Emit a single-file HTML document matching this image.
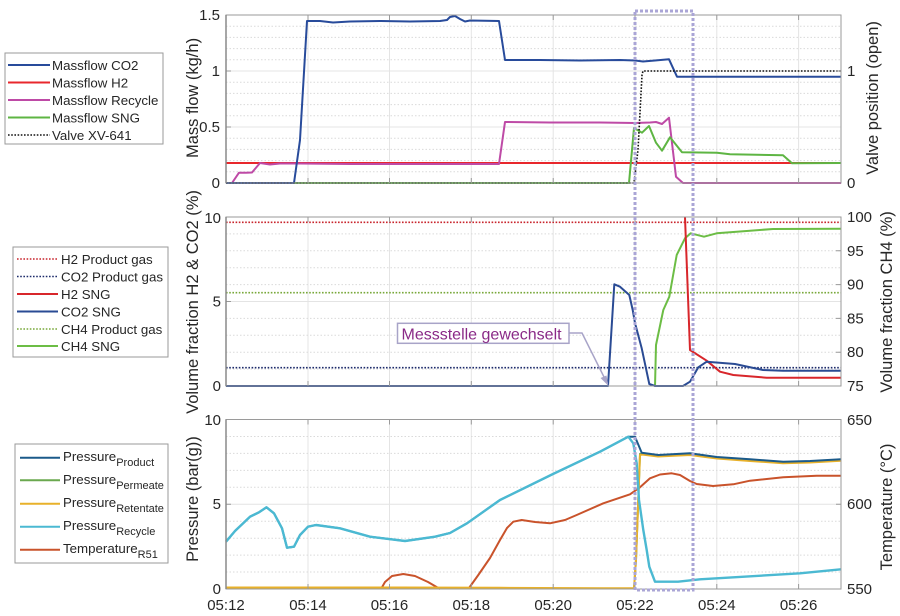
<!DOCTYPE html>
<html>
<head>
<meta charset="utf-8">
<style>
html,body{margin:0;padding:0;background:#fff;}
svg{display:block;}
text{font-family:"Liberation Sans",Arial,sans-serif;fill:#262626;}
</style>
</head>
<body>
<svg width="900" height="616" viewBox="0 0 900 616" xmlns="http://www.w3.org/2000/svg">
<rect width="900" height="616" fill="#fff"/>

<!-- ================= GRIDS ================= -->
<g fill="none">
  <path stroke="#e4e4e4" stroke-width="1" d="
  M308 15V183 M389.5 15V183 M471.3 15V183 M553.2 15V183 M635 15V183 M716.8 15V183 M798.6 15V183
  M308 217V386 M389.5 217V386 M471.3 217V386 M553.2 217V386 M635 217V386 M716.8 217V386 M798.6 217V386
  M308 419.5V589 M389.5 419.5V589 M471.3 419.5V589 M553.2 419.5V589 M635 419.5V589 M716.8 419.5V589 M798.6 419.5V589
  M226 127H841 M226 71H841
  M226 301.5H841
  M226 504.25H841"/>
  <path stroke="#dadada" stroke-width="1" stroke-dasharray="1.5 2" d="
  M226 171.8H841 M226 160.6H841 M226 149.4H841 M226 138.2H841 M226 115.8H841 M226 104.6H841 M226 93.4H841 M226 82.2H841 M226 59.8H841 M226 48.6H841 M226 37.4H841 M226 26.2H841
  M226 369.1H841 M226 352.2H841 M226 335.3H841 M226 318.4H841 M226 284.6H841 M226 267.7H841 M226 250.8H841 M226 233.9H841
  M226 572H841 M226 555.1H841 M226 538.2H841 M226 521.2H841 M226 487.3H841 M226 470.4H841 M226 453.4H841 M226 436.5H841"/>
</g>

<!-- ================= TOP PANEL DATA ================= -->
<g fill="none" stroke-linejoin="round" stroke-width="2">
  <polyline stroke="#e8272c" points="226,163 841,163"/>
  <polyline stroke="#be4aa6" points="226,183 232,183 239,172.7 246,172.7 252,172.5 260,163 270,164.5 280,163.5 300,163.5 350,164 400,164 450,164 499,164 505,122 550,122.5 600,122.5 635,123 650,122.5 656,122 662,124 669,117.7 676,176.7 683,183 841,183"/>
  <polyline stroke="#5eb543" points="226,183 629,183 634,128 642,132.7 649,126 656,142.7 662,150.7 670,137.3 682,152.3 717,152.7 730,154.3 783,155.3 792,163.3 841,163"/>
  <polyline stroke="#284b9b" points="226,183 294,183 300,140 307,21 320,21 333,22.5 350,21.5 380,21 410,21.5 440,21 447,20 450,17 455,16 460,19 465,21.5 470,20.5 499,21 505,60 540,60 580,60.5 620,60 635,60.5 643,61.5 655,60.5 669,59.3 677,76.7 841,76.7"/>
  <polyline stroke="#111" stroke-width="1.6" stroke-dasharray="1.6 1.6" points="226,183 634,183 638,150 642,75 643,71 841,71"/>
</g>

<!-- ================= MIDDLE PANEL DATA ================= -->
<g fill="none" stroke-linejoin="round">
  <line x1="226" y1="222.3" x2="841" y2="222.3" stroke="#c8242c" stroke-width="1.6" stroke-dasharray="1.6 1.6"/>
  <line x1="226" y1="292.7" x2="841" y2="292.7" stroke="#78a83a" stroke-width="1.6" stroke-dasharray="1.6 1.6"/>
  <line x1="226" y1="367.7" x2="841" y2="367.7" stroke="#1d2b6b" stroke-width="1.6" stroke-dasharray="1.6 1.6"/>
  <polyline stroke="#6cbd45" stroke-width="2" points="655,386.7 656,345 663.3,310 669.3,296.7 676.7,255 685,238.3 690.7,233.3 704,236.7 716.7,233.3 750,230.7 773,229 841,228.7"/>
  <polyline stroke="#d8262b" stroke-width="2" points="685,217.3 690,350 706.7,360.7 720,371.7 733.3,375 766.7,377.7 841,377.7"/>
  <polyline stroke="#2a4b94" stroke-width="2" points="226,386 608,386 614.3,284.3 620,286.7 629.3,295 632.7,310 635,323 641.7,348.3 649.3,384 655,386 683,386 690,381.7 698.3,367.3 706.7,361.7 735,364 763,370 783,370.7 841,370.7"/>
</g>

<!-- annotation -->
<g>
  <polyline fill="none" stroke="#a8a4c8" stroke-width="1.5" points="569,333 582,333 607,383"/>
  <polygon fill="#a8a4c8" points="608.5,386 600.5,378 606.5,375.5"/>
  <rect x="397.5" y="323.3" width="171.5" height="20" fill="#fff" stroke="#a8a4c8" stroke-width="1.5"/>
  <text x="401.5" y="339.5" font-size="16" style="fill:#8a2a87">Messstelle gewechselt</text>
</g>

<!-- ================= BOTTOM PANEL DATA ================= -->
<g fill="none" stroke-linejoin="round" stroke-width="2">
  <polyline stroke="#c9532b" points="381,589 385,582 392,576 403.3,574 415,576 428,582 440,589"/>
  <polyline stroke="#c9532b" points="468.3,589 478.3,575 490,558 500,540 507,528 513.3,521.7 521.7,520 535,522 550,523.3 565,520 576.7,515 603.3,503.3 630,494.3 640,487.3 650,478.3 660,474.5 671.7,473.3 680,475 690,481 696.7,484 713,486 733.3,484.3 750,480.7 783.3,477.3 816.7,475.7 841,475.7"/>
  <polyline stroke="#6aa84f" points="226,588 634,588.5 636,560 640,454 642,453.5 658,455.7 690,454.2 717,457.7 750,460.2 783,462.5 810,461.8 841,460"/>
  <polyline stroke="#e8b12a" points="226,587.5 400,587.5 500,587.8 600,588.2 634,588.2 636,560 640,455 642,454.5 658,456.5 690,455 717,458.5 750,461 783,463.2 810,462.5 841,460.7"/>
  <polyline stroke="#1b5a8a" points="226,541.7 235,531 250,516.7 259,512.3 266.5,507.3 274,513.3 282,528.3 287,547.7 294,546.7 300,535 308,526.7 316,525 340,528.3 370,536.7 405,541 435,536.7 450,533 467,523.3 500,500 553,474 600,451.7 628.3,436.7 635,436.7 641.7,452.7 658.3,455 690,453.3 716.7,457 750,459.3 783.3,461.7 810,461 841,459.3"/>
  <polyline stroke="#4bb9d2" stroke-width="2.4" points="226,541.7 235,531 250,516.7 259,512.3 266.5,507.3 274,513.3 282,528.3 287,547.7 294,546.7 300,535 308,526.7 316,525 340,528.3 370,536.7 405,541 435,536.7 450,533 467,523.3 500,500 553,474 600,451.7 628.3,436.7 633.3,443.3 636.7,463.3 639,500 643.3,530 646.7,550 649.3,566.7 655,581.7 678,581.7 700,579.3 800,573.3 841,569.3"/>
</g>

<!-- ================= AXES BOXES & TICKS ================= -->
<g fill="none" stroke="#9a9a9a" stroke-width="1">
  <rect x="226" y="15" width="615" height="168"/>
  <rect x="226" y="217" width="615" height="169"/>
  <rect x="226" y="419.5" width="615" height="169.5"/>
  <path d="
  M308 183v-5 M389.5 183v-5 M471.3 183v-5 M553.2 183v-5 M635 183v-5 M716.8 183v-5 M798.6 183v-5
  M308 15v5 M389.5 15v5 M471.3 15v5 M553.2 15v5 M635 15v5 M716.8 15v5 M798.6 15v5
  M308 386v-5 M389.5 386v-5 M471.3 386v-5 M553.2 386v-5 M635 386v-5 M716.8 386v-5 M798.6 386v-5
  M308 217v5 M389.5 217v5 M471.3 217v5 M553.2 217v5 M635 217v5 M716.8 217v5 M798.6 217v5
  M308 589v-5 M389.5 589v-5 M471.3 589v-5 M553.2 589v-5 M635 589v-5 M716.8 589v-5 M798.6 589v-5
  M308 419.5v5 M389.5 419.5v5 M471.3 419.5v5 M553.2 419.5v5 M635 419.5v5 M716.8 419.5v5 M798.6 419.5v5
  M226 127h5 M226 71h5
  M841 71h-5
  M226 301.5h5
  M841 250.8h-5 M841 284.6h-5 M841 318.4h-5 M841 352.2h-5
  M226 504.25h5 M841 504.25h-5"/>
</g>
<line x1="226" y1="15" x2="226" y2="183" stroke="#8a8a8a" stroke-width="1.5"/>
<line x1="226" y1="217" x2="226" y2="386" stroke="#8a8a8a" stroke-width="1.5"/>
<line x1="226" y1="419.5" x2="226" y2="589" stroke="#8a8a8a" stroke-width="1.5"/>

<!-- purple dotted highlight box -->
<rect x="635" y="11" width="58" height="579" fill="none" stroke="#aaa5d6" stroke-width="3" stroke-dasharray="3 2"/>

<!-- ================= TICK LABELS ================= -->
<g font-size="15" text-anchor="end">
  <text x="220" y="20">1.5</text>
  <text x="220" y="76">1</text>
  <text x="220" y="132">0.5</text>
  <text x="220" y="188">0</text>
  <text x="221" y="223">10</text>
  <text x="221" y="306.5">5</text>
  <text x="221" y="391">0</text>
  <text x="221" y="425">10</text>
  <text x="221" y="509">5</text>
  <text x="221" y="594">0</text>
</g>
<g font-size="15" text-anchor="start">
  <text x="847" y="76">1</text>
  <text x="847" y="188">0</text>
  <text x="847" y="222">100</text>
  <text x="847" y="256">95</text>
  <text x="847" y="289.5">90</text>
  <text x="847" y="323.5">85</text>
  <text x="847" y="357">80</text>
  <text x="847" y="391">75</text>
  <text x="847" y="425">650</text>
  <text x="847" y="509">600</text>
  <text x="847" y="594">550</text>
</g>
<g font-size="15" text-anchor="middle">
  <text x="226" y="610">05:12</text>
  <text x="308" y="610">05:14</text>
  <text x="389.5" y="610">05:16</text>
  <text x="471.3" y="610">05:18</text>
  <text x="553.2" y="610">05:20</text>
  <text x="635" y="610">05:22</text>
  <text x="716.8" y="610">05:24</text>
  <text x="798.6" y="610">05:26</text>
</g>

<!-- ================= AXIS LABELS ================= -->
<g font-size="16.5" text-anchor="middle">
  <text transform="translate(198,98) rotate(-90)">Mass flow (kg/h)</text>
  <text transform="translate(198,302) rotate(-90)">Volume fraction H2 &amp; CO2 (%)</text>
  <text transform="translate(198,499) rotate(-90)">Pressure (bar(g))</text>
  <text transform="translate(878,98) rotate(-90)">Valve position (open)</text>
  <text transform="translate(892,302) rotate(-90)">Volume fraction CH4 (%)</text>
  <text transform="translate(892,507) rotate(-90)">Temperature (°C)</text>
</g>

<!-- ================= LEGENDS ================= -->
<rect x="5" y="53" width="158" height="91" fill="#fff" stroke="#9a9a9a" stroke-width="1"/>
<g stroke-width="2" fill="none">
  <line x1="8" y1="65" x2="50" y2="65" stroke="#284b9b"/>
  <line x1="8" y1="82.5" x2="50" y2="82.5" stroke="#e8272c"/>
  <line x1="8" y1="100" x2="50" y2="100" stroke="#be4aa6"/>
  <line x1="8" y1="117.5" x2="50" y2="117.5" stroke="#5eb543"/>
  <line x1="8" y1="135" x2="50" y2="135" stroke="#111" stroke-width="1.6" stroke-dasharray="1.6 1.6"/>
</g>
<g font-size="13.3">
  <text x="52" y="70">Massflow CO2</text>
  <text x="52" y="87.5">Massflow H2</text>
  <text x="52" y="105">Massflow Recycle</text>
  <text x="52" y="122.5">Massflow SNG</text>
  <text x="52" y="140">Valve XV-641</text>
</g>

<rect x="13" y="247" width="155" height="110" fill="#fff" stroke="#9a9a9a" stroke-width="1"/>
<g stroke-width="1.6" fill="none">
  <line x1="17" y1="259" x2="58" y2="259" stroke="#c8242c" stroke-dasharray="1.6 1.6"/>
  <line x1="17" y1="276.5" x2="58" y2="276.5" stroke="#1d2b6b" stroke-dasharray="1.6 1.6"/>
  <line x1="17" y1="294" x2="58" y2="294" stroke="#d8262b" stroke-width="2"/>
  <line x1="17" y1="311.5" x2="58" y2="311.5" stroke="#2a4b94" stroke-width="2"/>
  <line x1="17" y1="329" x2="58" y2="329" stroke="#78a83a" stroke-dasharray="1.6 1.6"/>
  <line x1="17" y1="346" x2="58" y2="346" stroke="#6cbd45" stroke-width="2"/>
</g>
<g font-size="13.3">
  <text x="61" y="264">H2 Product gas</text>
  <text x="61" y="281.5">CO2 Product gas</text>
  <text x="61" y="299">H2 SNG</text>
  <text x="61" y="316.5">CO2 SNG</text>
  <text x="61" y="334">CH4 Product gas</text>
  <text x="61" y="351">CH4 SNG</text>
</g>

<rect x="15" y="444" width="153" height="119" fill="#fff" stroke="#9a9a9a" stroke-width="1"/>
<g stroke-width="2" fill="none">
  <line x1="20" y1="457.7" x2="60" y2="457.7" stroke="#1b5a8a"/>
  <line x1="20" y1="480.3" x2="60" y2="480.3" stroke="#6aa84f"/>
  <line x1="20" y1="503.7" x2="60" y2="503.7" stroke="#e8b12a"/>
  <line x1="20" y1="526.7" x2="60" y2="526.7" stroke="#4bb9d2"/>
  <line x1="20" y1="549.7" x2="60" y2="549.7" stroke="#c9532b"/>
</g>
<g font-size="13.3">
  <text x="63" y="461">Pressure<tspan font-size="11" dy="5">Product</tspan></text>
  <text x="63" y="484">Pressure<tspan font-size="11" dy="5">Permeate</tspan></text>
  <text x="63" y="507">Pressure<tspan font-size="11" dy="5">Retentate</tspan></text>
  <text x="63" y="530">Pressure<tspan font-size="11" dy="5">Recycle</tspan></text>
  <text x="63" y="553">Temperature<tspan font-size="11" dy="5">R51</tspan></text>
</g>
</svg>
</body>
</html>
